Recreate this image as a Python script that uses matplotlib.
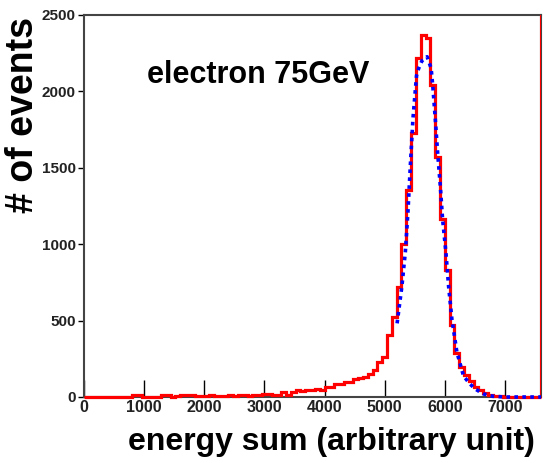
import numpy as np
from matplotlib import pyplot as plt

# =============================================================================
# Data
# =============================================================================
bin_width = 80
x_max = 7600

# counts per 80-unit bin, 0..7600
counts = [0, 0, 0, 0, 0, 0, 0, 0, 0, 0,
          15, 15, 0, 0, 3, 0, 15, 12, 3, 5,
          15, 15, 12, 5, 8, 6, 15, 8, 6, 8,
          10, 8, 10, 12, 8, 10, 15, 22, 22, 15,
          15, 33, 12, 30, 44, 40, 44, 48, 55, 44,
          67, 67, 83, 83, 95, 98, 116, 125, 133, 149,
          177, 232, 262, 406, 526, 722, 1000, 1355, 1726, 2217,
          2370, 2350, 2042, 1573, 1165, 831, 471, 286, 198, 144,
          105, 67, 46, 24, 13, 8, 4, 0, 0, 0,
          0, 0, 0, 0, 0]

# fitted curve (blue dotted)
fit_x = [5207, 5287, 5344, 5387, 5427, 5470, 5530, 5566, 5620, 5706,
         5773, 5800, 5842, 5880, 5925, 5963, 6018, 6063, 6118, 6201,
         6312, 6420, 6507, 6645, 6800, 7000, 7600]
fit_y = [482, 726, 949, 1210, 1514, 1819, 2103, 2151, 2200, 2227,
         2151, 2037, 1819, 1603, 1383, 1165, 949, 726, 510, 294,
         137, 85, 52, 20, 5, 0, 0]

x_ticks = [0, 1000, 2000, 3000, 4000, 5000, 6000, 7000]
y_ticks = [0, 500, 1000, 1500, 2000, 2500]

# =============================================================================
# Plot
# =============================================================================
plt.rcParams['font.family'] = ['Liberation Sans', 'DejaVu Sans']
plt.rcParams['font.weight'] = 'bold'

fig = plt.figure(figsize=(5.44, 4.63), dpi=100)
ax = fig.add_axes([84/544, 66/463, 457/544, 382/463])

edges = np.arange(len(counts) + 1) * bin_width
ax.stairs(counts, edges, color='#ff0000', lw=2.3, baseline=0, clip_on=False, zorder=3)
ax.axvline(x_max - 8, color='#ff0000', lw=1.5, zorder=3)
ax.plot(fit_x, fit_y, color='#0000ff', lw=2.6, linestyle=(0, (1, 1.2)),
        clip_on=False, zorder=4)

ax.set_xlim(0, x_max)
ax.set_ylim(0, 2500)
ax.set_xticks(x_ticks)
ax.set_yticks(y_ticks)
ax.tick_params(axis='x', direction='in', length=12, width=1, labelsize=11.5, pad=2)
ax.tick_params(axis='y', direction='out', length=4, width=1, labelsize=11, pad=2)
for lab in ax.get_xticklabels() + ax.get_yticklabels():
    lab.set_fontweight('bold')
    lab.set_color('#222222')
for sp in ax.spines.values():
    sp.set_color('#444444')
    sp.set_linewidth(1.5)

fig.text(535/544, 1 - 442/463, 'energy sum (arbitrary unit)', ha='right', va='center',
         fontsize=23, fontweight='bold')
fig.text(23/544, 1 - 115/463, '# of events', ha='center', va='center', rotation=90,
         fontsize=27, fontweight='bold')
fig.text(147/544, 1 - 75/463, 'electron 75GeV', ha='left', va='center',
         fontsize=22, fontweight='bold')

plt.savefig('out.png', dpi=100)
